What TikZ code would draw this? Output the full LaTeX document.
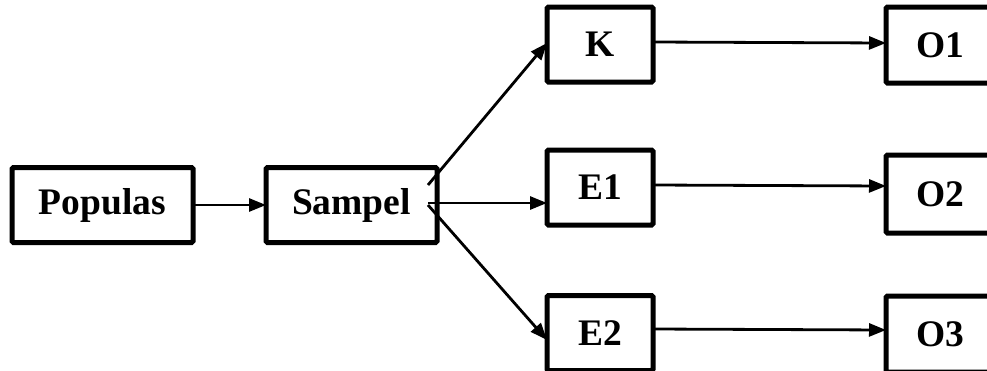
\documentclass[tikz,border=0pt]{standalone}
\usepackage{fontspec}
\setmainfont{Liberation Serif}
\usetikzlibrary{arrows.meta}
\begin{document}
\begin{tikzpicture}[x=1pt,y=-1pt,
  stagebox/.style={draw, line width=5pt, rounded corners=1.5pt, minimum height=75pt,
    inner sep=0pt, outer sep=0pt, font=\fontsize{37.5}{40}\selectfont\bfseries},
  link/.style={line width=2.8pt, -{Triangle[length=17pt,width=13pt]}}]
  \useasboundingbox (0,0) rectangle (987,370);
  \begin{scope}
  \clip (0,0) rectangle (987,370);
  % input stage
  \node[stagebox, minimum width=181pt] (pop) at (102.5,205) {Populas};
  \node[stagebox, minimum width=171pt] (smp) at (351.5,205) {Sampel};
  % treatment groups
  \node[stagebox, minimum width=106pt] (k)  at (600,44.5) {K};
  \node[stagebox, minimum width=106pt] (e1) at (600,187.5) {E1};
  \node[stagebox, minimum width=106pt] (e2) at (600,333) {E2};
  % observations
  \node[stagebox, minimum width=108pt, minimum height=76pt] (o1) at (940,45) {O1};
  \node[stagebox, minimum width=108pt, minimum height=78pt] (o2) at (940,194) {O2};
  \node[stagebox, minimum width=108pt, minimum height=76pt] (o3) at (940,334) {O3};
  \end{scope}
  % branch start points inside the sample box
  \coordinate (sk) at (428,185);
  \coordinate (se1) at (428,203);
  \coordinate (se2) at (428,205);
  % connectors
  \draw[link] (pop.east) -- (smp.west);
  \draw[link] (sk) -- (k.west |- 0,43);
  \draw[link] (se1) -- (e1.west |- se1);
  \draw[link] (se2) -- (e2.west |- 0,340);
  \draw[link] (k.east |- 0,42) -- (o1.west |- 0,43);
  \draw[link] (e1.east |- 0,185) -- (o2.west |- 0,186);
  \draw[link] (e2.east |- 0,329) -- (o3.west |- 0,330);
\end{tikzpicture}
\end{document}
